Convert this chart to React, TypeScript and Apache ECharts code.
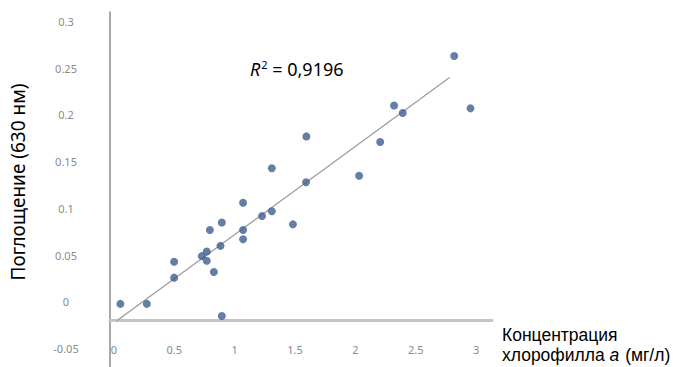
import React, { useEffect, useRef } from "react";
import * as echarts from "echarts";

// Chlorophyll a concentration (mg/l) and absorbance at 630 nm
const chlorophyll = [
  0.054, 0.273, 0.499, 0.499, 0.728, 0.769, 0.769, 0.828, 0.795, 0.894,
  0.883, 0.894, 1.07, 1.07, 1.07, 1.227, 1.308, 1.308, 1.483, 1.594,
  1.591, 2.031, 2.205, 2.32, 2.392, 2.818, 2.953,
];
const absorbance = [
  -0.002, -0.002, 0.026, 0.043, 0.049, 0.054, 0.044, 0.032, 0.077, 0.085,
  0.06, -0.015, 0.106, 0.077, 0.067, 0.092, 0.097, 0.143, 0.083, 0.177,
  0.128, 0.135, 0.171, 0.21, 0.202, 0.263, 0.207,
];
// Linear trend line end points
const trendX = [0.024, 2.78];
const trendY = [-0.02, 0.24];

const r2Text = "0,9196";
const yAxisName = "Поглощение (630 нм)";
const xAxisNameLines = ["Концентрация", "хлорофилла {i|a} (мг/л)"];

const FONT = "Noto Sans";
const NAME_FONT = "Liberation Sans";

export default function App() {
  const ref = useRef<HTMLDivElement>(null);

  useEffect(() => {
    if (!ref.current) return;
    const chart = echarts.init(ref.current, undefined, { renderer: "svg" });
    const points = chlorophyll.map((x, i) => [x, absorbance[i]]);
    const trend = trendX.map((x, i) => [x, trendY[i]]);

    chart.setOption({
      animation: false,
      backgroundColor: "#ffffff",
      grid: { left: 101, right: 200, top: 12, bottom: 0, containLabel: false },
      title: {
        left: 245,
        top: 54,
        text: "{i|R}{sup|2} = " + r2Text,
        textStyle: {
          fontFamily: FONT,
          fontSize: 18,
          fontWeight: "normal",
          color: "#000000",
          rich: {
            i: { fontFamily: FONT, fontSize: 18, fontStyle: "italic", color: "#000", padding: [0, 1, 0, 0] },
            sup: { fontFamily: FONT, fontSize: 11, color: "#000", verticalAlign: "top", padding: [0, 0, 9, 0] },
          },
        },
      },
      xAxis: {
        type: "value",
        min: -0.032,
        max: 3.131,
        offset: -47,
        splitLine: { show: false },
        axisTick: { show: false },
        axisLine: { show: true, onZero: false, lineStyle: { color: "#c4c4c4", width: 3 } },
        axisLabel: {
          showMinLabel: false,
          showMaxLabel: false,
          margin: 24,
          fontFamily: FONT,
          fontSize: 11,
          color: "#8a8a8a",
        },
      },
      yAxis: {
        type: "value",
        min: -0.0695,
        max: 0.31,
        splitNumber: 7,
        name: yAxisName,
        nameLocation: "middle",
        nameGap: 83,
        nameRotate: 90,
        nameTextStyle: { fontFamily: FONT, fontSize: 19, color: "#000000", padding: [0, 0, 0, 15] },
        splitLine: { show: false },
        axisTick: { show: false },
        axisLine: { show: true, onZero: false, lineStyle: { color: "#8c8c8c", width: 1.5 } },
        axisLabel: {
          showMinLabel: false,
          showMaxLabel: false,
          align: "center",
          margin: 44,
          fontFamily: FONT,
          fontSize: 11,
          color: "#8a8a8a",
        },
      },
      graphic: [
        {
          type: "text",
          left: 502,
          top: 325,
          style: {
            text: xAxisNameLines.join("\n"),
            fontFamily: NAME_FONT,
            fontSize: 17.5,
            lineHeight: 20,
            fill: "#000000",
            rich: {
              i: { fontFamily: NAME_FONT, fontSize: 17.5, fontStyle: "italic", fill: "#000", lineHeight: 20, padding: [0, 1, 0, 0] },
            },
          },
        },
      ],
      series: [
        {
          type: "line",
          data: trend,
          symbol: "none",
          lineStyle: { color: "#9a9a9a", width: 1.2 },
          silent: true,
          z: 1,
        },
        {
          type: "scatter",
          data: points,
          symbol: "circle",
          symbolSize: 8,
          itemStyle: { color: "#3f5e8e" },
          z: 2,
        },
      ],
    });

    return () => chart.dispose();
  }, []);

  return (
    <div
      ref={ref}
      style={{ position: "absolute", left: 0, top: 0, width: 692, height: 367 }}
    />
  );
}
